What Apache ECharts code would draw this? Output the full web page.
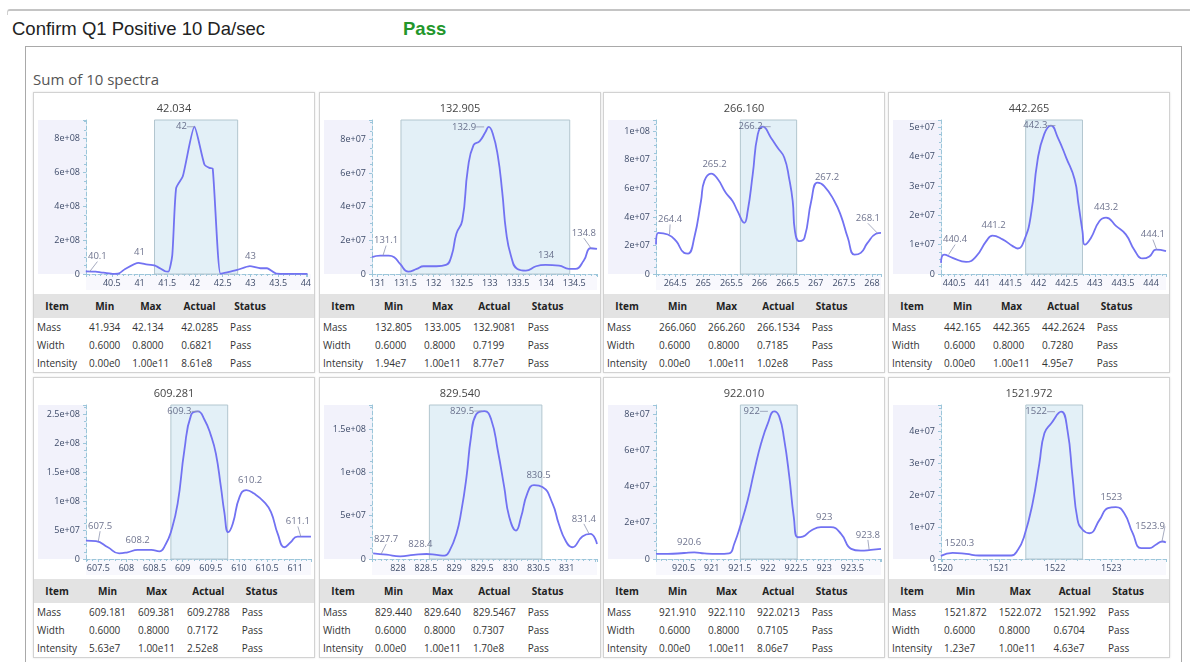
<!DOCTYPE html>
<html>
<head>
<meta charset="utf-8">
<script src="https://cdn.jsdelivr.net/npm/echarts@6.0.0/dist/echarts.min.js"></script>
<style>
body { margin: 0; width: 1190px; height: 662px; overflow: hidden; background: #fff; position: relative; font-family: 'Open Sans', sans-serif; }
#frame { position: absolute; left: 7px; top: 9px; width: 1190px; height: 4px; border-top: 2px solid #c4c4c4; border-left: 1px solid #d0d0d0; border-top-left-radius: 3px; }
#title { position: absolute; left: 12px; top: 18px; font: 18.5px 'Liberation Sans', Arial, sans-serif; color: #222; }
#pass { position: absolute; left: 403px; top: 18px; font: bold 18.5px 'Liberation Sans', Arial, sans-serif; color: #23962b; }
#box { position: absolute; left: 25px; top: 46px; width: 1155px; height: 700px; border: 1px solid #a9a9a9; }
#sum { position: absolute; left: 33px; top: 69px; font-size: 15px; color: #555; }
.panel { position: absolute; width: 282px; height: 281px; box-sizing: border-box; border: 1px solid #d2d2d2; box-shadow: 0 0 2px rgba(0,0,0,0.12); background: #fff; }
.chart { width: 280px; height: 201px; }
table { width: 100%; border-collapse: collapse; font-size: 10px; color: #333; }
th { background: #e3e3e3; height: 24px; font-weight: 700; color: #222; padding: 0 12px 0 0; text-align: center; white-space: nowrap; }
td { height: 18px; padding: 0 12px 0 0; white-space: nowrap; text-align: left; }
th:first-child, td:first-child { padding-left: 3px; }
th:nth-child(5) { min-width: 40px; }
th.fill, td.fill { width: 100%; padding: 0; }
</style>
</head>
<body>
<div id="frame"></div>
<div id="title">Confirm Q1 Positive 10 Da/sec</div>
<div id="pass">Pass</div>
<div id="box"></div>
<div id="sum">Sum of 10 spectra</div>
<script>
// target masses (panel titles) and shaded windows
var centers = [42.034, 132.905, 266.160, 442.265, 609.281, 829.540, 922.010, 1521.972];
var bandMin = [41.27, 131.42, 265.66, 441.77, 608.79, 828.56, 921.51, 1521.48];
var bandMax = [42.77, 134.42, 266.66, 442.78, 609.80, 830.56, 922.52, 1522.49];
var yMax = [9.1e8, 9.15e7, 1.08e8, 5.25e7, 2.66e8, 1.78e8, 8.5e7, 4.84e7];
var yStep = [2e8, 2e7, 2e7, 1e7, 5e7, 5e7, 2e7, 1e7];
var xStep = [0.5, 0.5, 0.5, 0.5, 0.5, 0.5, 0.5, 1];

// spectra [m/z, intensity]
var mz42 = [[40.03,1.6e7],[40.21,1.4e7],[40.30,1.0e7],[40.51,1e6],[40.63,4e6],[40.74,3.0e7],[40.98,6.6e7],[41.10,5.8e7],[41.28,5.0e7],[41.46,1.6e7],[41.52,1.4e7],[41.59,1.1e8],[41.66,5.07e8],[41.78,5.77e8],[41.99,8.7e8],[42.17,6.47e8],[42.26,6.27e8],[42.32,6.23e8],[42.46,2e6],[42.58,1.0e7],[42.76,2.4e7],[42.99,4.6e7],[43.18,3.4e7],[43.30,3.4e7],[43.47,2e6],[43.70,1e6],[44.03,1e6]];
var mz132 = [[130.905,1.0e7],[131.05,1.09e7],[131.20,1.09e7],[131.30,1.0e7],[131.405,6.0e6],[131.55,1.4e6],[131.70,3.0e6],[131.82,4.6e6],[132.05,4.6e6],[132.22,5.4e6],[132.32,1.09e7],[132.405,2.39e7],[132.51,3.18e7],[132.61,6.27e7],[132.71,7.66e7],[132.82,7.9e7],[132.92,8.42e7],[132.98,8.74e7],[133.05,8.36e7],[133.14,7.06e7],[133.22,4.88e7],[133.29,2.49e7],[133.375,1.09e7],[133.49,3.0e6],[133.64,2.0e6],[133.82,4.6e6],[133.99,5.4e6],[134.23,5.0e6],[134.405,3.0e6],[134.52,3.0e6],[134.67,8.0e6],[134.79,1.53e7],[134.905,1.49e7]];
var mz266 = [[264.16,2.07e7],[264.20,2.89e7],[264.37,2.77e7],[264.52,2.30e7],[264.66,1.48e7],[264.73,1.43e7],[264.84,2.54e7],[264.96,5.12e7],[265.02,6.53e7],[265.14,7.04e7],[265.26,6.64e7],[265.40,5.70e7],[265.52,5.12e7],[265.61,4.41e7],[265.73,3.59e7],[265.79,4.41e7],[265.88,7.0e7],[265.97,9.81e7],[266.06,1.033e8],[266.20,9.58e7],[266.32,8.87e7],[266.44,8.17e7],[266.53,6.64e7],[266.59,5.12e7],[266.63,3.0e7],[266.71,2.3e7],[266.80,2.54e7],[266.92,5.12e7],[267.03,6.41e7],[267.15,6.17e7],[267.33,5.12e7],[267.45,4.06e7],[267.57,2.54e7],[267.69,1.36e7],[267.80,1.48e7],[267.92,2.18e7],[268.07,2.82e7],[268.16,2.89e7]];
var mz442 = [[440.265,3.8e6],[440.32,6.6e6],[440.47,5.5e6],[440.71,4.1e6],[440.89,6.0e6],[441.07,1.12e7],[441.18,1.31e7],[441.36,1.18e7],[441.54,9.5e6],[441.63,8.7e6],[441.75,1.18e7],[441.865,2.03e7],[441.98,3.86e7],[442.10,4.77e7],[442.22,5.06e7],[442.34,4.66e7],[442.49,3.97e7],[442.64,3.23e7],[442.71,2.37e7],[442.78,1.46e7],[442.82,1.0e7],[442.93,1.23e7],[443.08,1.8e7],[443.20,1.92e7],[443.38,1.63e7],[443.55,1.35e7],[443.70,8.3e6],[443.85,5.3e6],[443.97,6.0e6],[444.09,8.3e6],[444.265,7.8e6]];
var mz609 = [[607.28,3.18e7],[607.46,3.07e7],[607.67,2.03e7],[607.87,9.8e6],[608.02,1.16e7],[608.20,1.56e7],[608.44,1.56e7],[608.585,1.33e7],[608.70,2.6e7],[608.79,4.63e7],[608.91,9.55e7],[609.03,1.88e8],[609.15,2.49e8],[609.27,2.55e8],[609.39,2.40e8],[609.50,2.14e8],[609.59,1.82e8],[609.68,1.24e8],[609.74,8.1e7],[609.81,4.63e7],[609.89,6.08e7],[610.01,1.07e8],[610.13,1.19e8],[610.27,1.13e8],[610.45,9.84e7],[610.57,8.1e7],[610.69,4.34e7],[610.81,2.03e7],[610.92,2.9e7],[611.04,3.88e7],[611.28,3.88e7]];
var mz829 = [[827.56,6.6e6],[827.80,5.0e6],[828.04,3.1e6],[828.28,4.7e6],[828.51,5.8e6],[828.69,4.7e6],[828.83,3.9e6],[828.92,9.7e6],[829.04,2.9e7],[829.13,5.62e7],[829.22,9.5e7],[829.30,1.41e8],[829.39,1.67e8],[829.54,1.71e8],[829.66,1.61e8],[829.775,1.26e8],[829.89,8.33e7],[829.98,4.85e7],[830.10,3.29e7],[830.19,4.85e7],[830.30,7.56e7],[830.42,8.53e7],[830.57,8.33e7],[830.75,6.4e7],[830.86,4.07e7],[830.98,2.13e7],[831.10,1.36e7],[831.28,2.6e7],[831.42,2.9e7],[831.54,1.74e7]];
var mz922 = [[920.01,2.8e6],[920.22,2.8e6],[920.51,3.3e6],[920.69,3.7e6],[920.87,3.1e6],[921.11,2.8e6],[921.31,3.1e6],[921.40,8.3e6],[921.52,1.94e7],[921.64,3.24e7],[921.76,4.9e7],[921.88,6.4e7],[922.00,7.5e7],[922.11,8.15e7],[922.20,7.87e7],[922.29,6.57e7],[922.38,4.54e7],[922.46,2.31e7],[922.53,1.2e7],[922.62,1.24e7],[922.77,1.57e7],[922.94,1.76e7],[923.12,1.76e7],[923.30,1.39e7],[923.48,5.6e6],[923.65,4.6e6],[923.83,5.0e6],[924.01,5.6e6]];
var mz1522 = [[1519.97,1.0e6],[1520.18,1.9e6],[1520.42,1.6e6],[1520.65,1.1e6],[1520.95,1.1e6],[1521.22,1.1e6],[1521.34,2.9e6],[1521.45,7.1e6],[1521.60,1.75e7],[1521.72,3.0e7],[1521.81,3.95e7],[1521.93,4.26e7],[1522.11,4.63e7],[1522.22,4.05e7],[1522.31,2.59e7],[1522.40,1.23e7],[1522.49,9.2e6],[1522.61,8.1e6],[1522.79,1.23e7],[1522.94,1.6e7],[1523.08,1.63e7],[1523.23,1.44e7],[1523.38,8.1e6],[1523.53,3.4e6],[1523.68,3.4e6],[1523.79,4.5e6],[1523.91,5.5e6],[1523.97,5.2e6]];
var spectra = [mz42, mz132, mz266, mz442, mz609, mz829, mz922, mz1522];

// labelled peaks [m/z, height]
var pk42 = [[40.1,1.4e7],[41,6.6e7],[42,8.7e8],[43,4.6e7]];
var pk132 = [[131.1,1.09e7],[132.9,8.74e7],[134,5.4e6],[134.8,1.53e7]];
var pk266 = [[264.4,2.77e7],[265.2,7.0e7],[266.2,1.033e8],[267.2,6.1e7],[268.1,2.85e7]];
var pk442 = [[440.4,6.6e6],[441.2,1.31e7],[442.3,5.06e7],[443.2,1.92e7],[444.1,8.3e6]];
var pk609 = [[607.5,3.07e7],[608.2,1.56e7],[609.3,2.55e8],[610.2,1.19e8],[611.1,3.88e7]];
var pk829 = [[827.7,5.5e6],[828.4,5.5e6],[829.5,1.71e8],[830.5,8.5e7],[831.4,2.9e7]];
var pk922 = [[920.6,3.6e6],[922,8.15e7],[923,1.76e7],[923.8,5.0e6]];
var pk1522 = [[1520.3,1.7e6],[1522,4.63e7],[1523,1.63e7],[1523.9,5.5e6]];
var peaks = [pk42, pk132, pk266, pk442, pk609, pk829, pk922, pk1522];

// result tables
var tableHead = ['Item', 'Min', 'Max', 'Actual', 'Status'];
var massMin = ['41.934', '132.805', '266.060', '442.165', '609.181', '829.440', '921.910', '1521.872'];
var massMax = ['42.134', '133.005', '266.260', '442.365', '609.381', '829.640', '922.110', '1522.072'];
var massActual = ['42.0285', '132.9081', '266.1534', '442.2624', '609.2788', '829.5467', '922.0213', '1521.992'];
var widthMin = ['0.6000', '0.6000', '0.6000', '0.6000', '0.6000', '0.6000', '0.6000', '0.6000'];
var widthMax = ['0.8000', '0.8000', '0.8000', '0.8000', '0.8000', '0.8000', '0.8000', '0.8000'];
var widthActual = ['0.6821', '0.7199', '0.7185', '0.7280', '0.7172', '0.7307', '0.7105', '0.6704'];
var intMin = ['0.00e0', '1.94e7', '0.00e0', '0.00e0', '5.63e7', '0.00e0', '0.00e0', '1.23e7'];
var intMax = ['1.00e11', '1.00e11', '1.00e11', '1.00e11', '1.00e11', '1.00e11', '1.00e11', '1.00e11'];
var intActual = ['8.61e8', '8.77e7', '1.02e8', '4.95e7', '2.52e8', '1.70e8', '8.06e7', '4.63e7'];
var statusText = ['Pass', 'Pass', 'Pass', 'Pass', 'Pass', 'Pass', 'Pass', 'Pass'];

var panelLeft = [33, 319, 603, 888];
var panelTop = [92, 377];

function sci(v) {
    if (v === 0) return '0';
    var p = Number(v.toPrecision(4)).toExponential().split('e');
    var e = Math.abs(+p[1]);
    return p[0] + 'e' + (+p[1] < 0 ? '-' : '+') + (e < 10 ? '0' + e : e);
}

var axisBlue = '#9cc6da';
var gl = 52, gr = 277, chartW = 280;

function buildOption(i) {
    var c = centers[i];
    var xmin = c - 2, xmax = c + 2;
    var pk = peaks[i];
    var top = 0;
    pk.forEach(function (p, k) { if (p[1] > pk[top][1]) top = k; });
    var labelData = pk.map(function (p, k) {
        var item = { value: p };
        if (k === top) {
            item.label = { position: 'left', distance: 8 };
            item.labelLine = { show: true };
        } else if (p[0] - xmin < 0.3 || xmax - p[0] < 0.3) {
            item.labelLine = { show: true };
        }
        return item;
    });
    // drop tick labels that would run past the chart edge
    var xLabel = function (v) {
        var s = String(Math.round(v * 1000) / 1000);
        var px = gl + (v - xmin) / (xmax - xmin) * (gr - gl);
        var w = s.replace('.', '').length * 5.1 + (s.indexOf('.') >= 0 ? 2.5 : 0);
        return px + w / 2 > chartW + 1 ? '' : s;
    };
    return {
        animation: false,
        textStyle: { fontFamily: 'Open Sans' },
        title: {
            text: c.toFixed(3), left: 'center', top: 5,
            textStyle: { fontSize: 11, fontWeight: 'normal', color: '#454545', fontFamily: 'Open Sans' }
        },
        grid: { left: gl, right: chartW - gr, top: 27, bottom: 20 },
        graphic: [
            { type: 'rect', left: 4, top: 27, shape: { width: gl - 4, height: 154 }, style: { fill: '#f2f2fb' }, z: -10, silent: true },
            { type: 'rect', left: gl, top: 181, shape: { width: gr - gl, height: 16 }, style: { fill: '#f8f8fd' }, z: -10, silent: true }
        ],
        xAxis: {
            type: 'value', min: xmin, max: xmax, splitNumber: Math.round(4 / xStep[i]),
            axisLine: { show: true, onZero: false, lineStyle: { color: axisBlue, type: 'dashed' } },
            axisTick: { show: true, length: 3, lineStyle: { color: axisBlue } },
            minorTick: { show: true, splitNumber: 5, length: 2, lineStyle: { color: axisBlue } },
            splitLine: { show: false },
            axisLabel: { fontSize: 9, color: '#3f4c6a', margin: 5, showMinLabel: false, showMaxLabel: false, formatter: xLabel }
        },
        yAxis: {
            type: 'value', min: 0, max: yMax[i], interval: yStep[i],
            axisLine: { show: true, lineStyle: { color: axisBlue, type: 'dashed' } },
            axisTick: { show: true, length: 3, lineStyle: { color: axisBlue } },
            minorTick: { show: true, splitNumber: 4, length: 2, lineStyle: { color: axisBlue } },
            splitLine: { show: false },
            axisLabel: { fontSize: 9, color: '#3f4c6a', margin: 6, showMaxLabel: false, formatter: sci }
        },
        series: [
            {
                type: 'line', data: spectra[i], smooth: i === 0 ? 0.2 : 0.5,
                showSymbol: false, z: 3,
                lineStyle: { color: '#7272f2', width: 1.8 },
                markArea: {
                    silent: true,
                    itemStyle: { color: '#e3f0f7', borderColor: '#b2c6cf', borderWidth: 1 },
                    data: [[{ xAxis: bandMin[i] }, { xAxis: bandMax[i] }]]
                }
            },
            {
                type: 'scatter', data: labelData, symbolSize: 0.1, z: 4,
                itemStyle: { color: 'rgba(0,0,0,0)' },
                label: {
                    show: true, position: 'top', distance: 5, fontSize: 9.5, color: '#4a5072',
                    formatter: function (p) { return String(p.value[0]); }
                },
                labelLine: { show: false, lineStyle: { color: '#8f95b0', width: 0.8 } },
                labelLayout: function (p) {
                    var r = p.labelRect, dx = 0, dy = 0;
                    if (r.x < gl + 2) { dx = gl + 2 - r.x; dy = -5; }
                    else if (r.x + r.width > gr - 1) { dx = gr - 1 - r.x - r.width; dy = -5; }
                    return { dx: dx, dy: dy };
                }
            }
        ]
    };
}

centers.forEach(function (c, i) {
    var panel = document.createElement('div');
    panel.className = 'panel';
    panel.style.left = panelLeft[i % 4] + 'px';
    panel.style.top = panelTop[Math.floor(i / 4)] + 'px';
    var chartDiv = document.createElement('div');
    chartDiv.className = 'chart';
    panel.appendChild(chartDiv);

    var rows = [
        ['Mass', massMin[i], massMax[i], massActual[i], statusText[i]],
        ['Width', widthMin[i], widthMax[i], widthActual[i], statusText[i]],
        ['Intensity', intMin[i], intMax[i], intActual[i], statusText[i]]
    ];
    var html = '<tr>' + tableHead.map(function (h) { return '<th>' + h + '</th>'; }).join('') + '<th class="fill"></th></tr>';
    rows.forEach(function (r) {
        html += '<tr>' + r.map(function (v) { return '<td>' + v + '</td>'; }).join('') + '<td class="fill"></td></tr>';
    });
    var table = document.createElement('table');
    table.innerHTML = html;
    panel.appendChild(table);
    document.body.appendChild(panel);

    var chart = echarts.init(chartDiv);
    chart.setOption(buildOption(i));
});
</script>
</body>
</html>
